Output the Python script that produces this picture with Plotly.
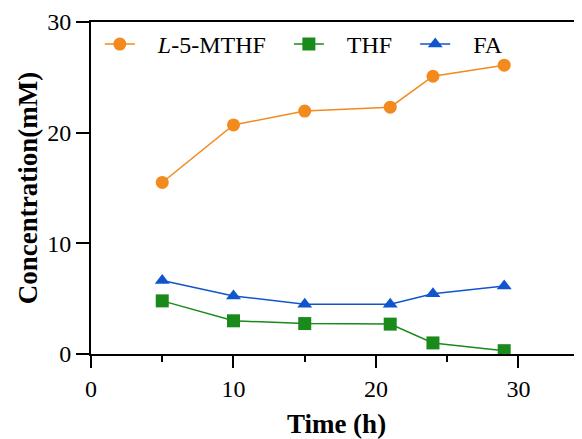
import plotly.graph_objects as go

time_h = [5, 10, 15, 21, 24, 29]
mthf = [15.5, 20.7, 21.95, 22.3, 25.1, 26.1]
thf = [4.8, 3.0, 2.75, 2.7, 1.0, 0.3]
fa = [6.65, 5.25, 4.5, 4.5, 5.45, 6.15]

series_names = ["<i>L</i>-5-MTHF", "THF", "FA"]
colors = ["#F28A1E", "#1A8A1A", "#1155CC"]
symbols = ["circle", "square", "triangle-up"]

NB = "\u00a0"
fig = go.Figure()
for name, vals, c, s in zip(series_names, [mthf, thf, fa], colors, symbols):
    fig.add_trace(go.Scatter(
        x=time_h, y=vals, name=NB * 3 + name + NB * 3, mode="lines+markers",
        line=dict(color=c, width=1.5),
        marker=dict(symbol=s, size=13, color=c),
    ))

font_family = "Liberation Serif, Times New Roman, serif"
fig.update_layout(
    width=574, height=431,
    margin=dict(l=83, r=0, t=14, b=85),
    paper_bgcolor="white", plot_bgcolor="white",
    font=dict(family=font_family, size=24, color="black"),
    showlegend=True,
    legend=dict(orientation="h", x=0.018, y=1.0, xanchor="left", yanchor="top",
                bgcolor="rgba(0,0,0,0)", font=dict(size=24), itemwidth=30,
                tracegroupgap=0),
    xaxis=dict(range=[0, 34.46], tickvals=[0, 10, 20, 30], showline=True, linecolor="black",
               linewidth=2, mirror=True, ticks="outside", ticklen=12, tickwidth=2,
               tickcolor="black", showgrid=False, zeroline=False, automargin=False,
               minor=dict(tickvals=[5, 15, 25], ticks="outside", ticklen=6, tickwidth=2, tickcolor="black"),
               title=dict(text="<b>Time (h)</b>", font=dict(size=27), standoff=14),
               tickfont=dict(size=24)),
    yaxis=dict(range=[0, 30], tickvals=[0, 10, 20, 30], showline=True, linecolor="black",
               linewidth=2, ticks="outside", ticklen=13, tickwidth=2, tickcolor="black",
               showgrid=False, zeroline=False, automargin=False,
               title=dict(text="<b>Concentration(mM)</b>", font=dict(size=27), standoff=2),
               tickfont=dict(size=24)),
)

fig.write_html("out.html")
